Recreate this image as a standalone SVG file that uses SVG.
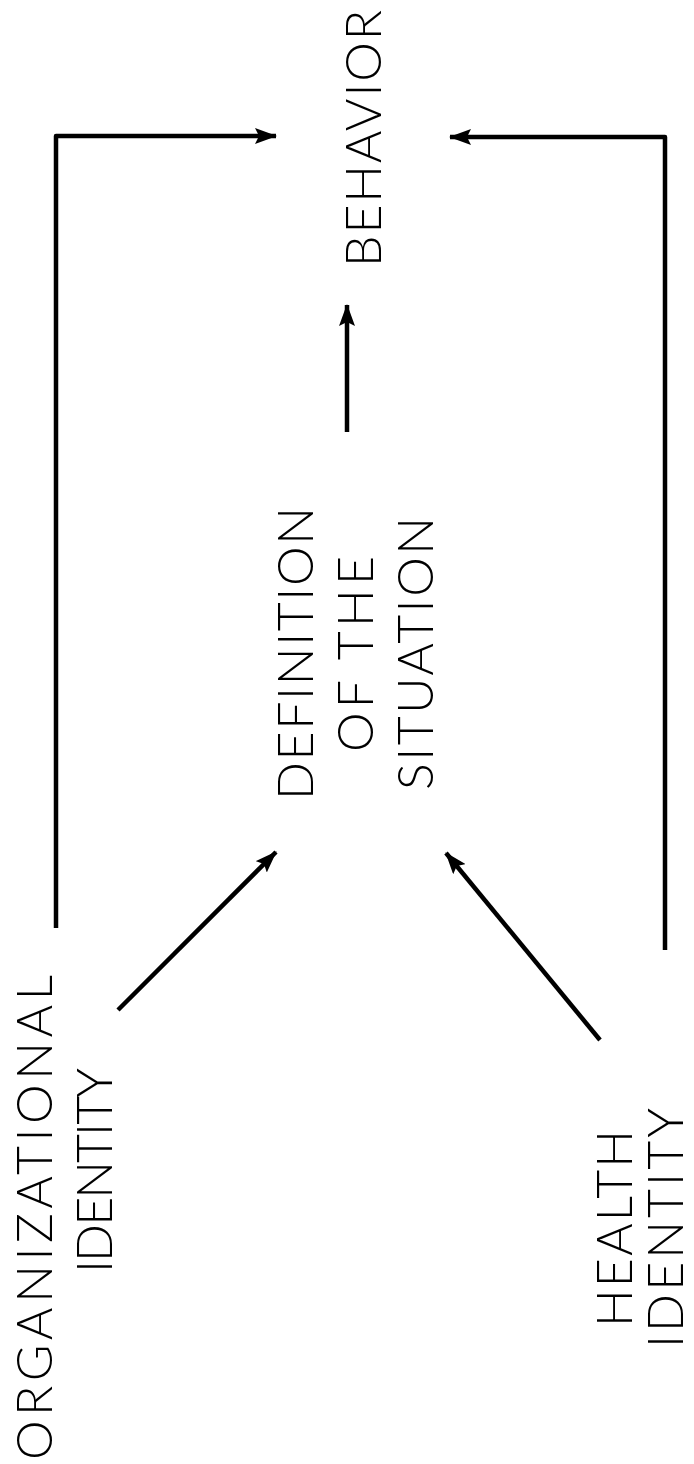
<svg xmlns="http://www.w3.org/2000/svg" width="694" height="1464" viewBox="0 0 694 1464">
<style>
.lbl{font-family:Lato,"Liberation Sans",sans-serif;font-weight:300;font-size:50px;fill:#000}
.c{fill:none;stroke:#000;stroke-width:4.5;stroke-linejoin:round}
</style>
<defs>
<marker id="ah" viewBox="0 0 22 16" refX="21" refY="8" markerWidth="22" markerHeight="16" markerUnits="userSpaceOnUse" orient="auto">
<path d="M0,0 L22,8 L0,16 L4,8 Z" fill="#000"/>
</marker>
</defs>
<rect width="694" height="1464" fill="#fff"/>
<g id="connectors">
<path class="c" d="M56,928 L56,136 L276,136" marker-end="url(#ah)"/>
<path class="c" d="M665,950 L665,137 L450,137" marker-end="url(#ah)"/>
<path class="c" d="M347,432 L347,305" marker-end="url(#ah)"/>
<path class="c" d="M118,1010 L276,852" marker-end="url(#ah)"/>
<path class="c" d="M600,1040 L446,853" marker-end="url(#ah)"/>
</g>
<g id="organizational-identity">
<text class="lbl" transform="translate(52,1460) rotate(-90)" textLength="485" lengthAdjust="spacing">ORGANIZATIONAL</text>
<text class="lbl" transform="translate(112,1273) rotate(-90)" textLength="205" lengthAdjust="spacing">IDENTITY</text>
</g>
<g id="definition">
<text class="lbl" transform="translate(313,800) rotate(-90)" textLength="293" lengthAdjust="spacing">DEFINITION</text>
<text class="lbl" transform="translate(373,752) rotate(-90)" textLength="196" lengthAdjust="spacing">OF THE</text>
<text class="lbl" transform="translate(433,790) rotate(-90)" textLength="273" lengthAdjust="spacing">SITUATION</text>
</g>
<g id="behavior">
<text class="lbl" transform="translate(381,267) rotate(-90)" textLength="257" lengthAdjust="spacing">BEHAVIOR</text>
</g>
<g id="health-identity">
<text class="lbl" transform="translate(632,1327) rotate(-90)" textLength="197" lengthAdjust="spacing">HEALTH</text>
<text class="lbl" transform="translate(683,1348) rotate(-90)" textLength="240" lengthAdjust="spacing">IDENTITY</text>
</g>
</svg>
